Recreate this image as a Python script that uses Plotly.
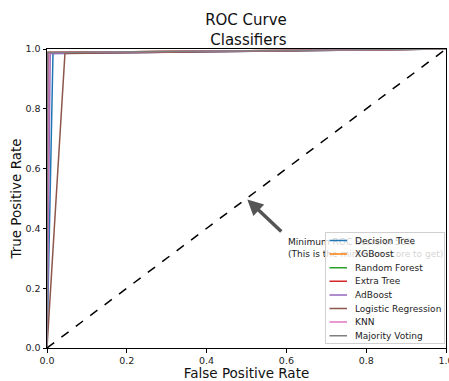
import plotly.graph_objects as go

# ROC data: each classifier -> (fpr points, tpr points)
names = ["Decision Tree", "XGBoost", "Random Forest", "Extra Tree",
         "AdBoost", "Logistic Regression", "KNN", "Majority Voting"]
colors = ["#1f77b4", "#ff7f0e", "#2ca02c", "#d62728",
          "#9467bd", "#8c564b", "#e377c2", "#7f7f7f"]
fpr_dt = [0.0, 0.015, 1.0]
tpr_dt = [0.0, 0.985, 1.0]
fpr_xgb = [0.0, 0.003, 1.0]
tpr_xgb = [0.0, 0.988, 1.0]
fpr_rf = [0.0, 0.002, 1.0]
tpr_rf = [0.0, 0.988, 1.0]
fpr_et = [0.0, 0.002, 1.0]
tpr_et = [0.0, 0.988, 1.0]
fpr_ada = [0.0, 0.008, 1.0]
tpr_ada = [0.0, 0.985, 1.0]
fpr_lr = [0.0, 0.045, 1.0]
tpr_lr = [0.0, 0.985, 1.0]
fpr_knn = [0.0, 0.005, 1.0]
tpr_knn = [0.0, 0.988, 1.0]
fpr_mv = [0.0, 0.002, 1.0]
tpr_mv = [0.0, 0.988, 1.0]
fprs = [fpr_dt, fpr_xgb, fpr_rf, fpr_et, fpr_ada, fpr_lr, fpr_knn, fpr_mv]
tprs = [tpr_dt, tpr_xgb, tpr_rf, tpr_et, tpr_ada, tpr_lr, tpr_knn, tpr_mv]
diag = [0.0, 1.0]
tick_vals = [0.0, 0.2, 0.4, 0.6, 0.8, 1.0]

FONT = "DejaVu Sans"
W, H = 449, 381
L, R, T, B = 47, 3, 49, 33
PW, PH = W - L - R, H - T - B

def px_x(p):
    return (p - L) / PW

def px_y(p):
    return (H - B - p) / PH

fig = go.Figure()
for n, c, fx, ty in zip(names, colors, fprs, tprs):
    fig.add_trace(go.Scatter(x=fx, y=ty, mode="lines", name=n,
                             line=dict(color=c, width=1.5), showlegend=False))
fig.add_trace(go.Scatter(x=diag, y=diag, mode="lines", showlegend=False,
                         line=dict(color="black", width=1.5, dash="dash")))

annotations = []
# arrow
annotations.append(dict(x=0.502, y=0.497, xref="x", yref="y",
                        ax=0.591, ay=0.385, axref="x", ayref="y",
                        text="", showarrow=True, arrowhead=2, arrowsize=0.9,
                        arrowwidth=3.5, arrowcolor="#555555"))
annotations.append(dict(x=0.6, y=0.378, xref="x", yref="y",
                        xanchor="left", yanchor="top", align="left",
                        text="Minimum ROC Score of 50%<br>(This is the minimum score to get)",
                        showarrow=False, font=dict(family=FONT, size=9, color="#222")))
# legend box
annotations.append(dict(x=px_x(384.5), y=px_y(287.5), xref="paper", yref="paper",
                        xanchor="center", yanchor="middle",
                        text=" ", showarrow=False, width=118, height=110,
                        bgcolor="rgba(255,255,255,0.8)", bordercolor="#d0d0d0",
                        borderwidth=1, borderpad=0))
for i, (n, c) in enumerate(zip(names, colors)):
    yy = 240.5 + 13.6 * i
    annotations.append(dict(x=px_x(347), y=px_y(yy), xref="paper", yref="paper",
                            ax=-19, ay=0, text="", showarrow=True, arrowhead=0,
                            arrowwidth=1.5, arrowcolor=c, standoff=0, startstandoff=0))
    annotations.append(dict(x=px_x(353), y=px_y(yy), xref="paper", yref="paper",
                            xanchor="left", yanchor="middle", text=n, showarrow=False,
                            font=dict(family=FONT, size=9, color="#222")))

axis_common = dict(range=[0, 1], showgrid=False, zeroline=False, showline=True,
                   linecolor="black", linewidth=1, mirror=True, ticks="outside",
                   ticklen=3.5, tickwidth=1, tickcolor="black",
                   tickvals=tick_vals, ticktext=[f"{v:.1f}" for v in tick_vals],
                   tickfont=dict(family=FONT, size=9.5, color="#222"),
                   ticklabeloverflow="allow", automargin=False)

fig.update_layout(
    width=W, height=H,
    margin=dict(l=L, r=R, t=T, b=B),
    paper_bgcolor="white", plot_bgcolor="white",
    title=dict(text="ROC Curve<br> Classifiers", x=px_x(246), xref="paper",
               y=1 - 25 / H, yref="container", yanchor="top",
               font=dict(family=FONT, size=15, color="#111")),
    xaxis=dict(**axis_common, title=dict(text="False Positive Rate", standoff=4,
               font=dict(family=FONT, size=13.5, color="#111"))),
    yaxis=dict(**axis_common, title=dict(text="True Positive Rate", standoff=0,
               font=dict(family=FONT, size=13.5, color="#111"))),
    annotations=annotations,
)

fig.write_html("out.html", config={"displayModeBar": False},
               post_script="document.body.style.margin='0px';document.body.style.overflow='hidden';")
